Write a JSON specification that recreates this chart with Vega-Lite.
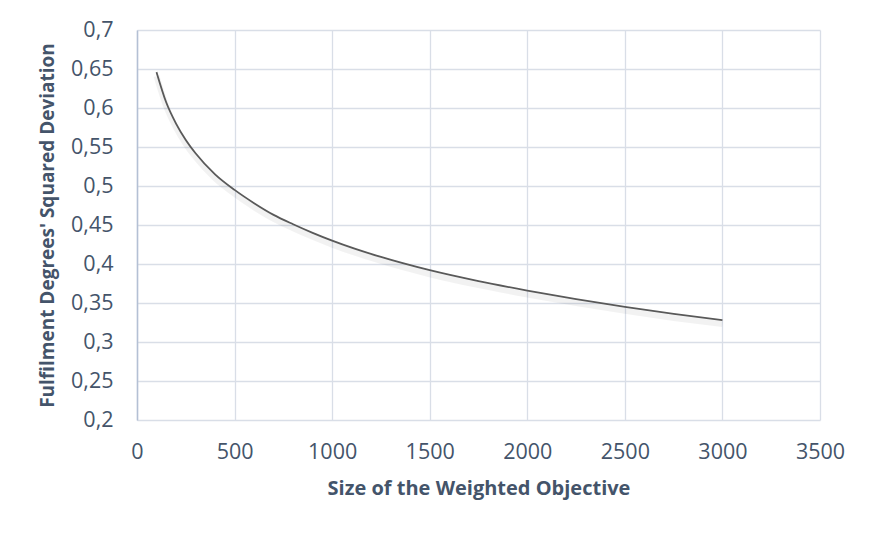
{
  "$schema": "https://vega.github.io/schema/vega-lite/v6.json",
  "width": 683,
  "height": 390,
  "autosize": {"type": "none"},
  "padding": {"left": 137, "top": 30, "right": 54, "bottom": 115},
  "background": "#ffffff",
  "config": {
    "view": {"stroke": null},
    "font": "Open Sans"
  },
  "data": {
    "values": [
      {"size": 100, "deviation": 0.646},
      {"size": 150, "deviation": 0.607},
      {"size": 200, "deviation": 0.580},
      {"size": 250, "deviation": 0.559},
      {"size": 300, "deviation": 0.542},
      {"size": 400, "deviation": 0.515},
      {"size": 500, "deviation": 0.495},
      {"size": 600, "deviation": 0.478},
      {"size": 700, "deviation": 0.463},
      {"size": 800, "deviation": 0.451},
      {"size": 900, "deviation": 0.440},
      {"size": 1000, "deviation": 0.430},
      {"size": 1250, "deviation": 0.409},
      {"size": 1500, "deviation": 0.392},
      {"size": 1750, "deviation": 0.378},
      {"size": 2000, "deviation": 0.366},
      {"size": 2250, "deviation": 0.355},
      {"size": 2500, "deviation": 0.345},
      {"size": 2750, "deviation": 0.336},
      {"size": 3000, "deviation": 0.328}
    ]
  },
  "encoding": {
    "x": {
      "field": "size",
      "type": "quantitative",
      "scale": {"domain": [0, 3500], "nice": false, "zero": false},
      "axis": {
        "title": "Size of the Weighted Objective",
        "values": [0, 500, 1000, 1500, 2000, 2500, 3000, 3500],
        "format": "d",
        "domain": false,
        "ticks": false,
        "grid": true,
        "gridColor": "#D9DEE7",
        "gridWidth": 1.3,
        "labelFlush": false,
        "labelOverlap": false,
        "labelFont": "Open Sans",
        "labelFontSize": 21.5,
        "labelColor": "#44546A",
        "labelPadding": 21,
        "titleFont": "Open Sans",
        "titleFontSize": 20,
        "titleFontWeight": "bold",
        "titleColor": "#44546A",
        "titlePadding": 16
      }
    },
    "y": {
      "field": "deviation",
      "type": "quantitative",
      "scale": {"domain": [0.2, 0.7], "nice": false, "zero": false},
      "axis": {
        "title": "Fulfilment Degrees' Squared Deviation",
        "values": [0.2, 0.25, 0.3, 0.35, 0.4, 0.45, 0.5, 0.55, 0.6, 0.65, 0.7],
        "labelExpr": "replace(format(datum.value, '.2~f'), '.', ',')",
        "domain": true,
        "domainColor": "#B4C0D4",
        "domainWidth": 1.5,
        "ticks": false,
        "grid": true,
        "gridColor": "#D9DEE7",
        "gridWidth": 1.3,
        "labelFlush": false,
        "labelOverlap": false,
        "labelFont": "Open Sans",
        "labelFontSize": 21.5,
        "labelColor": "#44546A",
        "labelPadding": 24,
        "titleFont": "Open Sans",
        "titleFontSize": 19,
        "titleFontWeight": "bold",
        "titleColor": "#44546A",
        "titlePadding": 13
      }
    }
  },
  "layer": [
    {
      "mark": {"type": "line", "interpolate": "monotone", "stroke": "#000000", "strokeWidth": 6, "opacity": 0.05, "yOffset": 4}
    },
    {
      "mark": {"type": "line", "interpolate": "monotone", "stroke": "#595959", "strokeWidth": 1.8}
    }
  ]
}
